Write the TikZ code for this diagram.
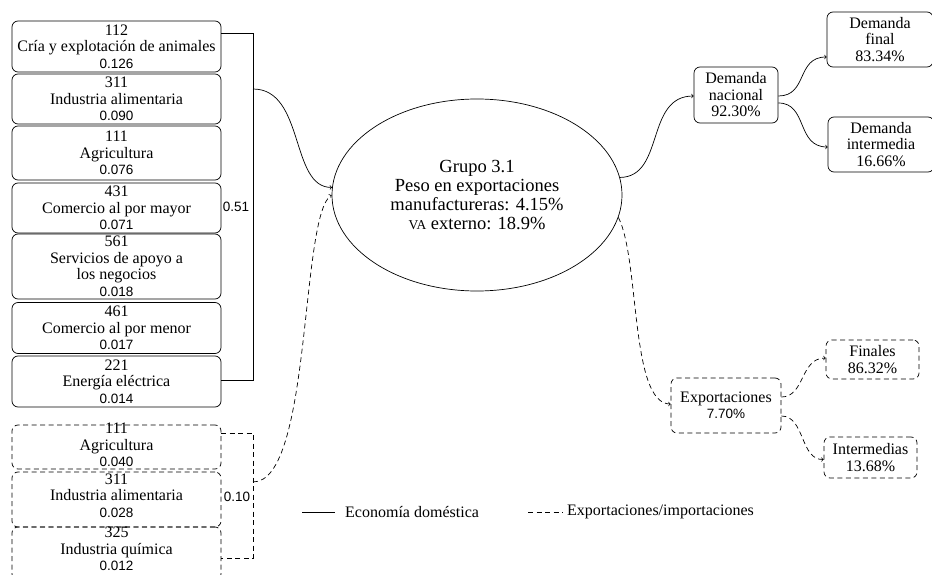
\documentclass[tikz,border=0pt]{standalone}
\usepackage{fontspec}
\setmainfont{Liberation Serif}
\newfontfamily\numfont{Liberation Sans}
\usetikzlibrary{shapes.geometric}
\tikzset{
  every node/.style={font=\fontsize{16}{16.5}\selectfont, align=center, inner sep=0pt},
  sbox/.style={draw, rounded corners=6pt, line width=0.7pt},
  dbox/.style={draw, rounded corners=6pt, dash pattern=on 5pt off 3.5pt, line width=0.7pt},
  conn/.style={line width=0.7pt},
  dconn/.style={line width=0.7pt, dash pattern=on 5pt off 3.5pt},
}
\newcommand{\nm}[1]{{\numfont\fontsize{13.5}{16.5}\selectfont #1}}
\begin{document}
\begin{tikzpicture}[x=1pt,y=-1pt]
\useasboundingbox (0,0) rectangle (932,575);
% solid boxes
\node[sbox, minimum width=209pt, minimum height=51pt] (b1) at (116.5,46.5) {112\\Cría y explotación de animales\\\nm{0.126}};
\node[sbox, minimum width=209pt, minimum height=50pt] (b2) at (116.5,99) {311\\Industria alimentaria\\\nm{0.090}};
\node[sbox, minimum width=209pt, minimum height=54pt] (b3) at (116.5,153) {111\\Agricultura\\\nm{0.076}};
\node[sbox, minimum width=209pt, minimum height=50pt] (b4) at (116.5,208) {431\\Comercio al por mayor\\\nm{0.071}};
\node[sbox, minimum width=209pt, minimum height=65pt] (b5) at (116.5,266.5) {561\\Servicios de apoyo a\\los negocios\\\nm{0.018}};
\node[sbox, minimum width=209pt, minimum height=51pt] (b6) at (116.5,328) {461\\Comercio al por menor\\\nm{0.017}};
\node[sbox, minimum width=209pt, minimum height=51pt] (b7) at (116.5,381.5) {221\\Energía eléctrica\\\nm{0.014}};
% dashed boxes (box size fixed, text placed as a centred label)
\node[dbox, minimum width=209pt, minimum height=44pt,
      label={[yshift=2pt]center:{111\\Agricultura\\\nm{0.040}}}] (d1) at (116.5,447) {};
\node[dbox, minimum width=209pt, minimum height=55pt,
      label={[yshift=4pt]center:{311\\Industria alimentaria\\\nm{0.028}}}] (d2) at (116.5,499.5) {};
\node[dbox, minimum width=209pt, minimum height=53pt,
      label={[yshift=4.5pt]center:{325\\Industria química\\\nm{0.012}}}] (d3) at (116.5,553.5) {};
% solid bracket
\coordinate (sa) at (221,33);
\coordinate (sb) at (253,33);
\coordinate (sc) at (253,380);
\coordinate (sd) at (221,380);
\draw[conn] (sa) -- (sb) -- (sc) -- (sd);
\node (l51) at (236,207) {\nm{0.51}};
\coordinate (so) at (253,89);
% dashed bracket
\coordinate (da) at (221,433);
\coordinate (db) at (253,433);
\coordinate (dc) at (253,558);
\coordinate (dd) at (221,558);
\draw[dconn] (da) -- (db) -- (dc) -- (dd);
\node (l10) at (237,497) {\nm{0.10}};
\coordinate (do) at (253,482);
% ellipse
\node[draw, ellipse, line width=0.7pt, minimum width=290pt, minimum height=192pt,
      font=\fontsize{18.5}{19}\selectfont] (g) at (477,195)
  {Grupo 3.1\\Peso en exportaciones\\manufactureras: 4.15\%\\{\fontsize{13.5}{19}\selectfont VA} externo: 18.9\%};
% right boxes
\node[sbox, minimum width=84pt, minimum height=56pt] (dn) at (736,95) {Demanda\\nacional\\92.30\%};
\node[sbox, minimum width=106pt, minimum height=55pt] (df) at (880,39.5) {Demanda\\final\\83.34\%};
\node[sbox, minimum width=106pt, minimum height=55pt] (di) at (881,144.5) {Demanda\\intermedia\\16.66\%};
\node[dbox, minimum width=110pt, minimum height=55pt] (ex) at (726,405.5) {Exportaciones\\\nm{7.70\%}};
\node[dbox, minimum width=93pt, minimum height=39pt] (fi) at (872.5,359.5) {Finales\\86.32\%};
\node[dbox, minimum width=93pt, minimum height=41pt] (in) at (870.5,457.5) {Intermedias\\13.68\%};
% connectors
\draw[conn,->] (so) .. controls (305,89) and (290,188) .. (g.177);
\draw[dconn,->] (do) .. controls (312,482) and (300,215) .. (g.180);
\draw[conn,->] (g.7) .. controls (665,177) and (645,96) .. ([yshift=-1pt]dn.west);
\draw[conn,->] ([yshift=-1pt]dn.east) .. controls (808,96) and (796,57) .. ([yshift=-17.5pt]df.west);
\draw[conn,->] ([yshift=-8pt]dn.east) .. controls (808,103) and (796,147) .. ([yshift=-2.5pt]di.west);
\draw[dconn,->] (g.-9) .. controls (640,260) and (630,404) .. ([yshift=1.5pt]ex.west);
\draw[dconn,->] ([yshift=8.5pt]ex.east) .. controls (805,397) and (800,358) .. ([yshift=1.5pt]fi.west);
\draw[dconn,->] ([yshift=-10.5pt]ex.east) .. controls (805,416) and (800,460) .. ([yshift=-2pt]in.west);
% legend
\coordinate (la) at (302,512);
\coordinate (lb) at (335,512);
\draw[conn] (la) -- (lb);
\node[anchor=west] (lt1) at (345,512) {Economía doméstica};
\coordinate (lc) at (528,512);
\coordinate (ld) at (563,512);
\draw[dconn] (lc) -- (ld);
\node[anchor=west] (lt2) at (567,512) {Exportaciones/importaciones};
\end{tikzpicture}
\end{document}
